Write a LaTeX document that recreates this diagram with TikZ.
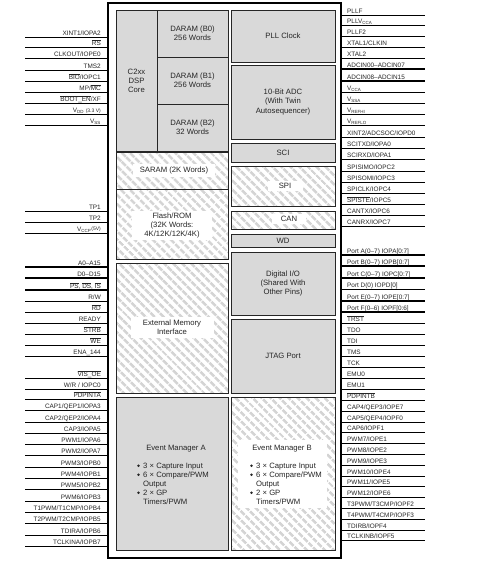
\documentclass[tikz,border=0pt]{standalone}
\usepackage{fontspec}
\setmainfont{Liberation Sans}
\usetikzlibrary{patterns.meta}
\definecolor{blkgray}{gray}{0.85}
\definecolor{hatchgray}{gray}{0.83}
\newcommand\pinfont{\fontsize{6.4}{7}\selectfont}
\newcommand\blkfont{\fontsize{7.7}{9.1}\selectfont}
\newcommand\ovl[1]{\setbox0\hbox{#1}\rlap{\rule[\dimexpr\ht0+0.5pt\relax]{\wd0}{0.7pt}}\box0}
\newcommand\lpin[3][]{%
  \coordinate (la#2) at (25,#2);
  \coordinate (lb#2) at (108,#2);
  \draw[pinline,#1] (la#2) -- (lb#2);
  \node[pinlbl,anchor=base east] (lt#2) at (101,#2-1.8) {#3};}
\newcommand\rpin[3][]{%
  \coordinate (ra#2) at (341,#2);
  \coordinate (rb#2) at (425,#2);
  \draw[pinline,#1] (ra#2) -- (rb#2);
  \node[pinlbl,anchor=base west] (rt#2) at (347,#2-1.8) {#3};}
\newcommand\blk[7][]{%
  \pgfmathsetmacro\bw{#5-#3}\pgfmathsetmacro\bh{#6-#4}%
  \node[#1, minimum width=\bw pt, minimum height=\bh pt, inner sep=0pt] (#2) at ({(#3+#5)/2},{(#4+#6)/2}) {#7};}
\begin{document}
\begin{tikzpicture}[x=1pt,y=-1pt,
  pinline/.style={line width=0.7pt},
  bus/.style={line width=1.8pt},
  midbus/.style={line width=1.1pt},
  pinlbl/.style={font=\pinfont, inner sep=0pt, text=black!85},
  blkbox/.style={draw=black!85, line width=0.7pt, fill=blkgray, align=center, font=\blkfont, text=black!85},
  hblk/.style={draw=black!85, line width=0.7pt,
    preaction={fill=white},
    preaction={pattern={Lines[angle=-45,distance=6.5pt,line width=3pt]}, pattern color=hatchgray}},
  hlab/.style={fill=white, align=center, font=\blkfont, text=black!85, inner sep=0pt},
  emtxt/.style={font=\blkfont, text=black!85, inner sep=0pt},
  dot/.style={circle, fill=black!85, inner sep=0pt, minimum size=2.8pt},
]
\fill[white] (0,0) rectangle (484,563);
\useasboundingbox (0,0) rectangle (484,563);

% chip outline
\blk[draw=black, line width=1.8pt]{chip}{108}{3}{341}{558}{}

% left column blocks
\blk[blkbox]{core}{116}{10}{157}{151}{C2xx\\DSP\\Core}
\blk[blkbox]{b0}{157}{10}{228}{57}{DARAM (B0)\\256 Words}
\blk[blkbox]{b1}{157}{57}{228}{104}{DARAM (B1)\\256 Words}
\blk[blkbox]{b2}{157}{104}{228}{151}{DARAM (B2)\\32 Words}
\blk[hblk]{saram}{116}{152}{228}{189}{}
\node[hlab, minimum width=82pt, minimum height=13pt] (saramT) at (174,170.5) {SARAM (2K Words)};
\blk[hblk]{flash}{116}{189}{228}{259}{}
\node[hlab, minimum width=80pt, minimum height=29pt] (flashT) at (172,225.5) {Flash/ROM\\(32K Words:\\4K/12K/12K/4K)};
\blk[hblk]{emi}{116}{263}{228}{393}{}
\node[hlab, minimum width=83pt, minimum height=21pt] (emiT) at (172,327.5) {External Memory\\Interface};
\blk[blkbox]{ema}{116}{397}{228}{550}{}

% right column blocks
\blk[blkbox]{pll}{231}{10}{335}{62}{PLL Clock}
\blk[blkbox]{adc}{231}{65}{335}{139}{10-Bit ADC\\(With Twin\\Autosequencer)}
\blk[blkbox]{sci}{231}{143}{335}{162}{SCI}
\blk[hblk]{spi}{231}{166}{335}{206}{}
\node[hlab, minimum width=35pt, minimum height=10pt] (spiT) at (285,186) {SPI};
\blk[hblk]{can}{231}{211}{335}{229}{}
\node[hlab, minimum width=34pt, minimum height=10pt] (canT) at (289,219) {CAN};
\blk[blkbox]{wd}{231}{234}{335}{247}{WD}
\blk[blkbox]{dio}{231}{252}{335}{315}{Digital I/O\\(Shared With\\Other Pins)}
\blk[blkbox]{jtag}{231}{319}{335}{393}{JTAG Port}
\blk[hblk]{emb}{231}{397}{335}{550}{}
\blk[fill=white]{embbg}{238}{440}{327}{508}{}

% event manager texts
\node[emtxt, anchor=base] (emaT) at (176,450) {Event Manager A};
\node[dot] (emaB1) at (138.5,465.7) {};
\node[emtxt, anchor=base west] (emaL1) at (143,468) {3 × Capture Input};
\node[dot] (emaB2) at (138.5,474.7) {};
\node[emtxt, anchor=base west] (emaL2) at (143,477) {6 × Compare/PWM};
\node[emtxt, anchor=base west] (emaL3) at (143,486) {Output};
\node[dot] (emaB4) at (138.5,492.7) {};
\node[emtxt, anchor=base west] (emaL4) at (143,495) {2 × GP};
\node[emtxt, anchor=base west] (emaL5) at (143,504) {Timers/PWM};

\node[emtxt, anchor=base] (embT) at (282,450) {Event Manager B};
\node[dot] (embB1) at (251.5,465.7) {};
\node[emtxt, anchor=base west] (embL1) at (256,468) {3 × Capture Input};
\node[dot] (embB2) at (251.5,474.7) {};
\node[emtxt, anchor=base west] (embL2) at (256,477) {6 × Compare/PWM};
\node[emtxt, anchor=base west] (embL3) at (256,486) {Output};
\node[dot] (embB4) at (251.5,492.7) {};
\node[emtxt, anchor=base west] (embL4) at (256,495) {2 × GP};
\node[emtxt, anchor=base west] (embL5) at (256,504) {Timers/PWM};

% left pins
\lpin{37}{XINT1/IOPA2}
\lpin{47}{\ovl{RS}}
\lpin{58}{CLKOUT/IOPE0}
\lpin{70}{TMS2}
\lpin{81}{\ovl{BIO}/IOPC1}
\lpin{92}{MP/\ovl{MC}}
\lpin{103}{\ovl{BOOT\_EN}/XF}
\lpin{114}{V\textsubscript{DD} {\fontsize{5}{5}\selectfont(3.3 V)}}
\lpin{125}{V\textsubscript{SS}}
\lpin{211}{TP1}
\lpin{222}{TP2}
\lpin{233}{V\textsubscript{CCP}\raisebox{1pt}{\fontsize{5}{5}\selectfont(5V)}}
\lpin[bus]{267}{A0–A15}
\lpin[bus]{278}{D0–D15}
\lpin[bus]{290}{\ovl{PS}, \ovl{DS}, \ovl{IS}}
\lpin{301}{R/W}
\lpin{312}{\ovl{RD}}
\lpin{323}{READY}
\lpin{334}{\ovl{STRB}}
\lpin{345}{\ovl{WE}}
\lpin{356}{ENA\_144}
\lpin{378}{\ovl{VIS\_OE}}
\lpin{389}{W/R / IOPC0}
\lpin{399}{\ovl{PDPINTA}}
\lpin{410}{CAP1/QEP1/IOPA3}
\lpin{422}{CAP2/QEP2/IOPA4}
\lpin{433}{CAP3/IOPA5}
\lpin{444}{PWM1/IOPA6}
\lpin{455}{PWM2/IOPA7}
\lpin{467}{PWM3/IOPB0}
\lpin{478}{PWM4/IOPB1}
\lpin{489}{PWM5/IOPB2}
\lpin{501}{PWM6/IOPB3}
\lpin{512}{T1PWM/T1CMP/IOPB4}
\lpin{523}{T2PWM/T2CMP/IOPB5}
\lpin{535}{TDIRA/IOPB6}
\lpin{546}{TCLKINA/IOPB7}

% right pins
\rpin{15}{PLLF}
\rpin{25}{PLLV\textsubscript{CCA}}
\rpin{36}{PLLF2}
\rpin{47}{XTAL1/CLKIN}
\rpin{58}{XTAL2}
\rpin[bus]{69}{ADCIN00–ADCIN07}
\rpin[bus]{81}{ADCIN08–ADCIN15}
\rpin{92}{V\textsubscript{CCA}}
\rpin{103}{V\textsubscript{SSA}}
\rpin{114}{V\textsubscript{REFHI}}
\rpin{125}{V\textsubscript{REFLO}}
\rpin{137}{XINT2/ADCSOC/IOPD0}
\rpin{148}{SCITXD/IOPA0}
\rpin{159}{SCIRXD/IOPA1}
\rpin{171}{SPISIMO/IOPC2}
\rpin{182}{SPISOMI/IOPC3}
\rpin{193}{SPICLK/IOPC4}
\rpin{204}{\ovl{SPISTE}/IOPC5}
\rpin{215}{CANTX/IOPC6}
\rpin{226}{CANRX/IOPC7}
\rpin[midbus]{255}{Port A(0–7) IOPA[0:7]}
\rpin[midbus]{266}{Port B(0–7) IOPB[0:7]}
\rpin[midbus]{278}{Port C(0–7) IOPC[0:7]}
\rpin{289}{Port D(0) IOPD[0]}
\rpin[midbus]{301}{Port E(0–7) IOPE[0:7]}
\rpin[midbus]{312}{Port F(0–6) IOPF[0:6]}
\rpin{323}{\ovl{TRST}}
\rpin{334}{TDO}
\rpin{345}{TDI}
\rpin{356}{TMS}
\rpin{367}{TCK}
\rpin{378}{EMU0}
\rpin{389}{EMU1}
\rpin{400}{\ovl{PDPINTB}}
\rpin{411}{CAP4/QEP3/IOPE7}
\rpin{422}{CAP5/QEP4/IOPF0}
\rpin{432}{CAP6/IOPF1}
\rpin{443}{PWM7/IOPE1}
\rpin{454}{PWM8/IOPE2}
\rpin{465}{PWM9/IOPE3}
\rpin{476}{PWM10/IOPE4}
\rpin{486}{PWM11/IOPE5}
\rpin{497}{PWM12/IOPE6}
\rpin{508}{T3PWM/T3CMP/IOPF2}
\rpin{519}{T4PWM/T4CMP/IOPF3}
\rpin{530}{TDIRB/IOPF4}
\rpin{540}{TCLKINB/IOPF5}
\end{tikzpicture}
\end{document}
